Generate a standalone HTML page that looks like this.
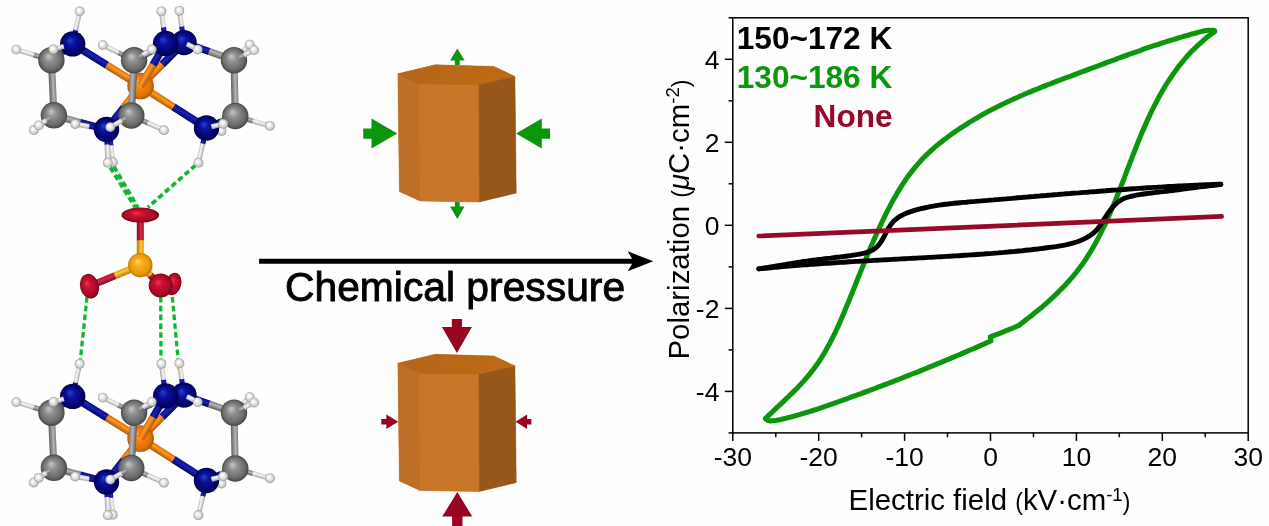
<!DOCTYPE html>
<html lang="en"><head><meta charset="utf-8"><title>Chemical pressure</title>
<style>
html,body{margin:0;padding:0;background:#fff;}
body{width:1269px;height:526px;overflow:hidden;font-family:"Liberation Sans",Arial,sans-serif;}
svg{display:block}
text{font-family:"Liberation Sans",Arial,sans-serif;}
</style></head><body>
<svg width="1269" height="526" viewBox="0 0 1269 526">
<defs>

<radialGradient id="gN" cx="0.5" cy="0.5" r="0.5" fx="0.38" fy="0.34"><stop offset="0" stop-color="#2e3ec6"/><stop offset="0.35" stop-color="#0a12a0"/><stop offset="0.8" stop-color="#040470"/><stop offset="1" stop-color="#020240"/></radialGradient>
<radialGradient id="gC" cx="0.5" cy="0.5" r="0.5" fx="0.38" fy="0.34"><stop offset="0" stop-color="#c8c8c8"/><stop offset="0.35" stop-color="#909090"/><stop offset="0.8" stop-color="#6a6a6a"/><stop offset="1" stop-color="#454545"/></radialGradient>
<radialGradient id="gH" cx="0.5" cy="0.5" r="0.5" fx="0.38" fy="0.34"><stop offset="0" stop-color="#ffffff"/><stop offset="0.35" stop-color="#f2f2f2"/><stop offset="0.8" stop-color="#cacaca"/><stop offset="1" stop-color="#8e8e8e"/></radialGradient>
<radialGradient id="gCo" cx="0.5" cy="0.5" r="0.5" fx="0.38" fy="0.34"><stop offset="0" stop-color="#ffae40"/><stop offset="0.35" stop-color="#f8860e"/><stop offset="0.8" stop-color="#e07204"/><stop offset="1" stop-color="#b05804"/></radialGradient>
<radialGradient id="gO" cx="0.5" cy="0.5" r="0.5" fx="0.38" fy="0.34"><stop offset="0" stop-color="#ee3252"/><stop offset="0.35" stop-color="#cc1030"/><stop offset="0.8" stop-color="#a80a26"/><stop offset="1" stop-color="#74061a"/></radialGradient>
<radialGradient id="gS" cx="0.5" cy="0.5" r="0.5" fx="0.38" fy="0.34"><stop offset="0" stop-color="#ffd860"/><stop offset="0.35" stop-color="#f8ac18"/><stop offset="0.8" stop-color="#e89808"/><stop offset="1" stop-color="#b87404"/></radialGradient>
<linearGradient id="bN" x1="0" y1="0" x2="0" y2="1"><stop offset="0" stop-color="#0a0a80"/><stop offset="0.4" stop-color="#1a22c0"/><stop offset="1" stop-color="#04045a"/></linearGradient>
<linearGradient id="bC" x1="0" y1="0" x2="0" y2="1"><stop offset="0" stop-color="#7e7e7e"/><stop offset="0.4" stop-color="#b4b4b4"/><stop offset="1" stop-color="#5e5e5e"/></linearGradient>
<linearGradient id="bH" x1="0" y1="0" x2="0" y2="1"><stop offset="0" stop-color="#c4c4c4"/><stop offset="0.4" stop-color="#f6f6f6"/><stop offset="1" stop-color="#a8a8a8"/></linearGradient>
<linearGradient id="bCo" x1="0" y1="0" x2="0" y2="1"><stop offset="0" stop-color="#d86e06"/><stop offset="0.4" stop-color="#ff9820"/><stop offset="1" stop-color="#b05804"/></linearGradient>
<linearGradient id="bO" x1="0" y1="0" x2="0" y2="1"><stop offset="0" stop-color="#a00c28"/><stop offset="0.4" stop-color="#d82848"/><stop offset="1" stop-color="#780820"/></linearGradient>
<linearGradient id="bS" x1="0" y1="0" x2="0" y2="1"><stop offset="0" stop-color="#e89808"/><stop offset="0.4" stop-color="#ffc838"/><stop offset="1" stop-color="#b87404"/></linearGradient>
<linearGradient id="ptop" x1="0" y1="0" x2="1" y2="0"><stop offset="0" stop-color="#b4661c"/><stop offset="1" stop-color="#c06a12"/></linearGradient>
</defs>
<rect width="1269" height="526" fill="#fffefe"/>
<g id="mol">
<line x1="110.3" y1="167.5" x2="135.4" y2="207.8" stroke="#10b832" stroke-width="3.7" stroke-dasharray="5.6 3.2"/>
<line x1="114.0" y1="166.6" x2="138.0" y2="207.8" stroke="#10b832" stroke-width="3.7" stroke-dasharray="5.6 3.2"/>
<line x1="195.6" y1="165.2" x2="147.8" y2="207.4" stroke="#10b832" stroke-width="3.7" stroke-dasharray="5.6 3.2"/>
<line x1="87.0" y1="297.0" x2="79.3" y2="370.0" stroke="#10b832" stroke-width="3.3" stroke-dasharray="5.6 3.2"/>
<line x1="160.7" y1="297.0" x2="161.0" y2="369.0" stroke="#10b832" stroke-width="3.3" stroke-dasharray="5.6 3.2"/>
<line x1="172.3" y1="297.0" x2="179.0" y2="369.0" stroke="#10b832" stroke-width="3.3" stroke-dasharray="5.6 3.2"/>
<g transform="translate(140.6 86.0) rotate(126.63) scale(1 -1)"><rect x="0" y="-3.8" width="27.1" height="7.6" fill="url(#bCo)"/><rect x="26.5" y="-3.8" width="26.5" height="7.6" fill="url(#bN)"/></g>
<g transform="translate(109.0 128.5) rotate(83.57) scale(1 1)"><rect x="0" y="-2.5" width="17.6" height="5" fill="url(#bN)"/><rect x="17.0" y="-2.5" width="17.0" height="5" fill="url(#bH)"/></g>
<circle cx="112.8" cy="162.2" r="4.9" fill="url(#gH)"/>
<g transform="translate(140.6 86.0) rotate(-45.00) scale(1 1)"><rect x="0" y="-3.8" width="31.3" height="7.6" fill="url(#bCo)"/><rect x="30.7" y="-3.8" width="30.7" height="7.6" fill="url(#bN)"/></g>
<g transform="translate(184.0 42.6) rotate(-98.23) scale(1 -1)"><rect x="0" y="-2.5" width="16.7" height="5" fill="url(#bN)"/><rect x="16.1" y="-2.5" width="16.1" height="5" fill="url(#bH)"/></g>
<circle cx="179.4" cy="10.8" r="4.9" fill="url(#gH)"/>
<g transform="translate(184.0 42.6) rotate(19.39) scale(1 1)"><rect x="0" y="-3.5" width="27.1" height="7" fill="url(#bN)"/><rect x="26.5" y="-3.5" width="26.5" height="7" fill="url(#bC)"/></g>
<circle cx="184.0" cy="42.6" r="12.7" fill="url(#gN)"/>
<g transform="translate(140.6 86.0) rotate(-148.20) scale(1 -1)"><rect x="0" y="-3.8" width="40.5" height="7.6" fill="url(#bCo)"/><rect x="39.9" y="-3.8" width="39.9" height="7.6" fill="url(#bN)"/></g>
<g transform="translate(140.6 86.0) rotate(128.09) scale(1 -1)"><rect x="0" y="-3.8" width="28.2" height="7.6" fill="url(#bCo)"/><rect x="27.6" y="-3.8" width="27.6" height="7.6" fill="url(#bN)"/></g>
<g transform="translate(140.6 86.0) rotate(32.51) scale(1 1)"><rect x="0" y="-3.8" width="39.7" height="7.6" fill="url(#bCo)"/><rect x="39.1" y="-3.8" width="39.1" height="7.6" fill="url(#bN)"/></g>
<circle cx="140.6" cy="86.0" r="13.3" fill="url(#gCo)"/>
<g transform="translate(140.6 86.0) rotate(-59.59) scale(1 1)"><rect x="0" y="-3.8" width="25.3" height="7.6" fill="url(#bCo)"/><rect x="24.7" y="-3.8" width="24.7" height="7.6" fill="url(#bN)"/></g>
<g transform="translate(165.6 43.4) rotate(151.93) scale(1 -1)"><rect x="0" y="-3.5" width="18.5" height="7" fill="url(#bN)"/><rect x="17.9" y="-3.5" width="17.9" height="7" fill="url(#bC)"/></g>
<g transform="translate(165.6 43.4) rotate(-97.45) scale(1 -1)"><rect x="0" y="-2.5" width="16.8" height="5" fill="url(#bN)"/><rect x="16.2" y="-2.5" width="16.2" height="5" fill="url(#bH)"/></g>
<circle cx="161.4" cy="11.3" r="4.9" fill="url(#gH)"/>
<circle cx="165.6" cy="43.4" r="12.7" fill="url(#gN)"/>
<g transform="translate(186.7 44.0) rotate(27.06) scale(1 1)"><rect x="0" y="-2.5" width="0.8" height="5" fill="url(#bN)"/><rect x="0.2" y="-2.5" width="12.1" height="5" fill="url(#bH)"/></g>
<circle cx="197.7" cy="49.6" r="4.9" fill="url(#gH)"/>
<g transform="translate(72.7 43.9) rotate(-77.88) scale(1 1)"><rect x="0" y="-2.5" width="14.6" height="5" fill="url(#bN)"/><rect x="14.0" y="-2.5" width="19.3" height="5" fill="url(#bH)"/></g>
<circle cx="79.7" cy="11.3" r="4.9" fill="url(#gH)"/>
<g transform="translate(51.4 60.2) rotate(-163.20) scale(1 -1)"><rect x="0" y="-2.5" width="18.9" height="5" fill="url(#bC)"/><rect x="18.3" y="-2.5" width="18.3" height="5" fill="url(#bH)"/></g>
<circle cx="16.3" cy="49.6" r="4.9" fill="url(#gH)"/>
<g transform="translate(51.4 60.2) rotate(87.40) scale(1 1)"><rect x="0" y="-3.5" width="55.2" height="7" fill="url(#bC)"/></g>
<g transform="translate(53.9 115.3) rotate(143.82) scale(1 -1)"><rect x="0" y="-2.5" width="13.1" height="5" fill="url(#bC)"/><rect x="12.5" y="-2.5" width="12.5" height="5" fill="url(#bH)"/></g>
<circle cx="33.8" cy="130.0" r="4.9" fill="url(#gH)"/>
<g transform="translate(53.9 115.3) rotate(15.11) scale(1 1)"><rect x="0" y="-3.5" width="27.8" height="7" fill="url(#bC)"/><rect x="27.2" y="-3.5" width="27.2" height="7" fill="url(#bN)"/></g>
<g transform="translate(72.7 43.9) rotate(142.57) scale(1 -1)"><rect x="0" y="-3.5" width="14.0" height="7" fill="url(#bN)"/><rect x="13.4" y="-3.5" width="13.4" height="7" fill="url(#bC)"/></g>
<circle cx="72.7" cy="43.9" r="12.7" fill="url(#gN)"/>
<circle cx="51.4" cy="60.2" r="13.2" fill="url(#gC)"/>
<g transform="translate(64.0 46.4) rotate(164.09) scale(1 -1)"><rect x="0" y="-2.5" width="0.8" height="5" fill="url(#bN)"/><rect x="0.2" y="-2.5" width="10.8" height="5" fill="url(#bH)"/></g>
<circle cx="53.4" cy="49.4" r="4.9" fill="url(#gH)"/>
<circle cx="53.9" cy="115.3" r="13.2" fill="url(#gC)"/>
<g transform="translate(49.7 118.1) rotate(146.49) scale(1 -1)"><rect x="0" y="-2.5" width="4.7" height="5" fill="url(#bC)"/><rect x="4.1" y="-2.5" width="9.1" height="5" fill="url(#bH)"/></g>
<circle cx="38.8" cy="125.3" r="4.9" fill="url(#gH)"/>
<g transform="translate(106.5 129.5) rotate(-170.03) scale(1 -1)"><rect x="0" y="-2.5" width="18.1" height="5" fill="url(#bN)"/><rect x="17.5" y="-2.5" width="14.3" height="5" fill="url(#bH)"/></g>
<circle cx="75.2" cy="124.0" r="4.9" fill="url(#gH)"/>
<g transform="translate(106.5 129.5) rotate(87.76) scale(1 1)"><rect x="0" y="-2.5" width="15.6" height="5" fill="url(#bN)"/><rect x="15.0" y="-2.5" width="18.3" height="5" fill="url(#bH)"/></g>
<circle cx="107.8" cy="162.7" r="4.9" fill="url(#gH)"/>
<circle cx="106.5" cy="129.5" r="12.7" fill="url(#gN)"/>
<g transform="translate(134.1 60.2) rotate(-154.25) scale(1 -1)"><rect x="0" y="-2.5" width="18.0" height="5" fill="url(#bC)"/><rect x="17.4" y="-2.5" width="17.4" height="5" fill="url(#bH)"/></g>
<circle cx="102.8" cy="45.1" r="4.9" fill="url(#gH)"/>
<g transform="translate(134.1 60.2) rotate(92.90) scale(1 -1)"><rect x="0" y="-3.5" width="55.4" height="7" fill="url(#bC)"/></g>
<g transform="translate(131.3 115.5) rotate(24.27) scale(1 1)"><rect x="0" y="-2.5" width="18.5" height="5" fill="url(#bC)"/><rect x="17.9" y="-2.5" width="17.9" height="5" fill="url(#bH)"/></g>
<circle cx="163.9" cy="130.2" r="4.9" fill="url(#gH)"/>
<circle cx="134.1" cy="60.2" r="13.2" fill="url(#gC)"/>
<g transform="translate(139.6 56.8) rotate(-31.39) scale(1 1)"><rect x="0" y="-2.5" width="4.5" height="5" fill="url(#bC)"/><rect x="3.9" y="-2.5" width="10.4" height="5" fill="url(#bH)"/></g>
<circle cx="151.8" cy="49.4" r="4.9" fill="url(#gH)"/>
<circle cx="131.3" cy="115.5" r="13.2" fill="url(#gC)"/>
<g transform="translate(126.0 118.4) rotate(151.08) scale(1 -1)"><rect x="0" y="-2.5" width="5.4" height="5" fill="url(#bC)"/><rect x="4.8" y="-2.5" width="13.2" height="5" fill="url(#bH)"/></g>
<circle cx="110.3" cy="127.1" r="4.9" fill="url(#gH)"/>
<g transform="translate(234.0 60.2) rotate(88.67) scale(1 1)"><rect x="0" y="-3.5" width="55.8" height="7" fill="url(#bC)"/></g>
<g transform="translate(235.3 116.0) rotate(15.81) scale(1 1)"><rect x="0" y="-2.5" width="18.6" height="5" fill="url(#bC)"/><rect x="18.0" y="-2.5" width="18.0" height="5" fill="url(#bH)"/></g>
<circle cx="269.9" cy="125.8" r="4.9" fill="url(#gH)"/>
<g transform="translate(235.3 116.0) rotate(157.38) scale(1 -1)"><rect x="0" y="-3.5" width="16.2" height="7" fill="url(#bC)"/><rect x="15.6" y="-3.5" width="15.6" height="7" fill="url(#bN)"/></g>
<g transform="translate(234.0 60.2) rotate(-44.64) scale(1 1)"><rect x="0" y="-2.5" width="11.7" height="5" fill="url(#bC)"/><rect x="11.1" y="-2.5" width="11.1" height="5" fill="url(#bH)"/></g>
<circle cx="249.8" cy="44.6" r="4.9" fill="url(#gH)"/>
<circle cx="234.0" cy="60.2" r="13.2" fill="url(#gC)"/>
<g transform="translate(239.4 57.5) rotate(-26.68) scale(1 1)"><rect x="0" y="-2.5" width="5.8" height="5" fill="url(#bC)"/><rect x="5.2" y="-2.5" width="11.2" height="5" fill="url(#bH)"/></g>
<circle cx="254.1" cy="50.1" r="4.9" fill="url(#gH)"/>
<circle cx="235.3" cy="116.0" r="13.2" fill="url(#gC)"/>
<g transform="translate(206.5 128.0) rotate(103.14) scale(1 -1)"><rect x="0" y="-2.5" width="16.6" height="5" fill="url(#bN)"/><rect x="16.0" y="-2.5" width="19.6" height="5" fill="url(#bH)"/></g>
<circle cx="198.4" cy="162.7" r="4.9" fill="url(#gH)"/>
<circle cx="221.5" cy="131.0" r="4.9" fill="url(#gH)"/>
<circle cx="206.5" cy="128.0" r="12.7" fill="url(#gN)"/>
<g transform="translate(211.3 126.8) rotate(-14.12) scale(1 1)"><rect x="0" y="-2.5" width="0.8" height="5" fill="url(#bN)"/><rect x="0.2" y="-2.5" width="12.0" height="5" fill="url(#bH)"/></g>
<circle cx="223.2" cy="123.8" r="4.9" fill="url(#gH)"/>
<g transform="translate(140.6 438.5) rotate(126.63) scale(1 -1)"><rect x="0" y="-3.8" width="27.1" height="7.6" fill="url(#bCo)"/><rect x="26.5" y="-3.8" width="26.5" height="7.6" fill="url(#bN)"/></g>
<g transform="translate(109.0 481.0) rotate(83.57) scale(1 1)"><rect x="0" y="-2.5" width="17.6" height="5" fill="url(#bN)"/><rect x="17.0" y="-2.5" width="17.0" height="5" fill="url(#bH)"/></g>
<circle cx="112.8" cy="514.7" r="4.9" fill="url(#gH)"/>
<g transform="translate(140.6 438.5) rotate(-45.00) scale(1 1)"><rect x="0" y="-3.8" width="31.3" height="7.6" fill="url(#bCo)"/><rect x="30.7" y="-3.8" width="30.7" height="7.6" fill="url(#bN)"/></g>
<g transform="translate(184.0 395.1) rotate(-98.23) scale(1 -1)"><rect x="0" y="-2.5" width="16.7" height="5" fill="url(#bN)"/><rect x="16.1" y="-2.5" width="16.1" height="5" fill="url(#bH)"/></g>
<circle cx="179.4" cy="363.3" r="4.9" fill="url(#gH)"/>
<g transform="translate(184.0 395.1) rotate(19.39) scale(1 1)"><rect x="0" y="-3.5" width="27.1" height="7" fill="url(#bN)"/><rect x="26.5" y="-3.5" width="26.5" height="7" fill="url(#bC)"/></g>
<circle cx="184.0" cy="395.1" r="12.7" fill="url(#gN)"/>
<g transform="translate(140.6 438.5) rotate(-148.20) scale(1 -1)"><rect x="0" y="-3.8" width="40.5" height="7.6" fill="url(#bCo)"/><rect x="39.9" y="-3.8" width="39.9" height="7.6" fill="url(#bN)"/></g>
<g transform="translate(140.6 438.5) rotate(128.09) scale(1 -1)"><rect x="0" y="-3.8" width="28.2" height="7.6" fill="url(#bCo)"/><rect x="27.6" y="-3.8" width="27.6" height="7.6" fill="url(#bN)"/></g>
<g transform="translate(140.6 438.5) rotate(32.51) scale(1 1)"><rect x="0" y="-3.8" width="39.7" height="7.6" fill="url(#bCo)"/><rect x="39.1" y="-3.8" width="39.1" height="7.6" fill="url(#bN)"/></g>
<circle cx="140.6" cy="438.5" r="13.3" fill="url(#gCo)"/>
<g transform="translate(140.6 438.5) rotate(-59.59) scale(1 1)"><rect x="0" y="-3.8" width="25.3" height="7.6" fill="url(#bCo)"/><rect x="24.7" y="-3.8" width="24.7" height="7.6" fill="url(#bN)"/></g>
<g transform="translate(165.6 395.9) rotate(151.93) scale(1 -1)"><rect x="0" y="-3.5" width="18.5" height="7" fill="url(#bN)"/><rect x="17.9" y="-3.5" width="17.9" height="7" fill="url(#bC)"/></g>
<g transform="translate(165.6 395.9) rotate(-97.45) scale(1 -1)"><rect x="0" y="-2.5" width="16.8" height="5" fill="url(#bN)"/><rect x="16.2" y="-2.5" width="16.2" height="5" fill="url(#bH)"/></g>
<circle cx="161.4" cy="363.8" r="4.9" fill="url(#gH)"/>
<circle cx="165.6" cy="395.9" r="12.7" fill="url(#gN)"/>
<g transform="translate(186.7 396.5) rotate(27.06) scale(1 1)"><rect x="0" y="-2.5" width="0.8" height="5" fill="url(#bN)"/><rect x="0.2" y="-2.5" width="12.1" height="5" fill="url(#bH)"/></g>
<circle cx="197.7" cy="402.1" r="4.9" fill="url(#gH)"/>
<g transform="translate(72.7 396.4) rotate(-77.88) scale(1 1)"><rect x="0" y="-2.5" width="14.6" height="5" fill="url(#bN)"/><rect x="14.0" y="-2.5" width="19.3" height="5" fill="url(#bH)"/></g>
<circle cx="79.7" cy="363.8" r="4.9" fill="url(#gH)"/>
<g transform="translate(51.4 412.7) rotate(-163.20) scale(1 -1)"><rect x="0" y="-2.5" width="18.9" height="5" fill="url(#bC)"/><rect x="18.3" y="-2.5" width="18.3" height="5" fill="url(#bH)"/></g>
<circle cx="16.3" cy="402.1" r="4.9" fill="url(#gH)"/>
<g transform="translate(51.4 412.7) rotate(87.40) scale(1 1)"><rect x="0" y="-3.5" width="55.2" height="7" fill="url(#bC)"/></g>
<g transform="translate(53.9 467.8) rotate(143.82) scale(1 -1)"><rect x="0" y="-2.5" width="13.1" height="5" fill="url(#bC)"/><rect x="12.5" y="-2.5" width="12.5" height="5" fill="url(#bH)"/></g>
<circle cx="33.8" cy="482.5" r="4.9" fill="url(#gH)"/>
<g transform="translate(53.9 467.8) rotate(15.11) scale(1 1)"><rect x="0" y="-3.5" width="27.8" height="7" fill="url(#bC)"/><rect x="27.2" y="-3.5" width="27.2" height="7" fill="url(#bN)"/></g>
<g transform="translate(72.7 396.4) rotate(142.57) scale(1 -1)"><rect x="0" y="-3.5" width="14.0" height="7" fill="url(#bN)"/><rect x="13.4" y="-3.5" width="13.4" height="7" fill="url(#bC)"/></g>
<circle cx="72.7" cy="396.4" r="12.7" fill="url(#gN)"/>
<circle cx="51.4" cy="412.7" r="13.2" fill="url(#gC)"/>
<g transform="translate(64.0 398.9) rotate(164.09) scale(1 -1)"><rect x="0" y="-2.5" width="0.8" height="5" fill="url(#bN)"/><rect x="0.2" y="-2.5" width="10.8" height="5" fill="url(#bH)"/></g>
<circle cx="53.4" cy="401.9" r="4.9" fill="url(#gH)"/>
<circle cx="53.9" cy="467.8" r="13.2" fill="url(#gC)"/>
<g transform="translate(49.7 470.6) rotate(146.49) scale(1 -1)"><rect x="0" y="-2.5" width="4.7" height="5" fill="url(#bC)"/><rect x="4.1" y="-2.5" width="9.1" height="5" fill="url(#bH)"/></g>
<circle cx="38.8" cy="477.8" r="4.9" fill="url(#gH)"/>
<g transform="translate(106.5 482.0) rotate(-170.03) scale(1 -1)"><rect x="0" y="-2.5" width="18.1" height="5" fill="url(#bN)"/><rect x="17.5" y="-2.5" width="14.3" height="5" fill="url(#bH)"/></g>
<circle cx="75.2" cy="476.5" r="4.9" fill="url(#gH)"/>
<g transform="translate(106.5 482.0) rotate(87.76) scale(1 1)"><rect x="0" y="-2.5" width="15.6" height="5" fill="url(#bN)"/><rect x="15.0" y="-2.5" width="18.3" height="5" fill="url(#bH)"/></g>
<circle cx="107.8" cy="515.2" r="4.9" fill="url(#gH)"/>
<circle cx="106.5" cy="482.0" r="12.7" fill="url(#gN)"/>
<g transform="translate(134.1 412.7) rotate(-154.25) scale(1 -1)"><rect x="0" y="-2.5" width="18.0" height="5" fill="url(#bC)"/><rect x="17.4" y="-2.5" width="17.4" height="5" fill="url(#bH)"/></g>
<circle cx="102.8" cy="397.6" r="4.9" fill="url(#gH)"/>
<g transform="translate(134.1 412.7) rotate(92.90) scale(1 -1)"><rect x="0" y="-3.5" width="55.4" height="7" fill="url(#bC)"/></g>
<g transform="translate(131.3 468.0) rotate(24.27) scale(1 1)"><rect x="0" y="-2.5" width="18.5" height="5" fill="url(#bC)"/><rect x="17.9" y="-2.5" width="17.9" height="5" fill="url(#bH)"/></g>
<circle cx="163.9" cy="482.7" r="4.9" fill="url(#gH)"/>
<circle cx="134.1" cy="412.7" r="13.2" fill="url(#gC)"/>
<g transform="translate(139.6 409.3) rotate(-31.39) scale(1 1)"><rect x="0" y="-2.5" width="4.5" height="5" fill="url(#bC)"/><rect x="3.9" y="-2.5" width="10.4" height="5" fill="url(#bH)"/></g>
<circle cx="151.8" cy="401.9" r="4.9" fill="url(#gH)"/>
<circle cx="131.3" cy="468.0" r="13.2" fill="url(#gC)"/>
<g transform="translate(126.0 470.9) rotate(151.08) scale(1 -1)"><rect x="0" y="-2.5" width="5.4" height="5" fill="url(#bC)"/><rect x="4.8" y="-2.5" width="13.2" height="5" fill="url(#bH)"/></g>
<circle cx="110.3" cy="479.6" r="4.9" fill="url(#gH)"/>
<g transform="translate(234.0 412.7) rotate(88.67) scale(1 1)"><rect x="0" y="-3.5" width="55.8" height="7" fill="url(#bC)"/></g>
<g transform="translate(235.3 468.5) rotate(15.81) scale(1 1)"><rect x="0" y="-2.5" width="18.6" height="5" fill="url(#bC)"/><rect x="18.0" y="-2.5" width="18.0" height="5" fill="url(#bH)"/></g>
<circle cx="269.9" cy="478.3" r="4.9" fill="url(#gH)"/>
<g transform="translate(235.3 468.5) rotate(157.38) scale(1 -1)"><rect x="0" y="-3.5" width="16.2" height="7" fill="url(#bC)"/><rect x="15.6" y="-3.5" width="15.6" height="7" fill="url(#bN)"/></g>
<g transform="translate(234.0 412.7) rotate(-44.64) scale(1 1)"><rect x="0" y="-2.5" width="11.7" height="5" fill="url(#bC)"/><rect x="11.1" y="-2.5" width="11.1" height="5" fill="url(#bH)"/></g>
<circle cx="249.8" cy="397.1" r="4.9" fill="url(#gH)"/>
<circle cx="234.0" cy="412.7" r="13.2" fill="url(#gC)"/>
<g transform="translate(239.4 410.0) rotate(-26.68) scale(1 1)"><rect x="0" y="-2.5" width="5.8" height="5" fill="url(#bC)"/><rect x="5.2" y="-2.5" width="11.2" height="5" fill="url(#bH)"/></g>
<circle cx="254.1" cy="402.6" r="4.9" fill="url(#gH)"/>
<circle cx="235.3" cy="468.5" r="13.2" fill="url(#gC)"/>
<g transform="translate(206.5 480.5) rotate(103.14) scale(1 -1)"><rect x="0" y="-2.5" width="16.6" height="5" fill="url(#bN)"/><rect x="16.0" y="-2.5" width="19.6" height="5" fill="url(#bH)"/></g>
<circle cx="198.4" cy="515.2" r="4.9" fill="url(#gH)"/>
<circle cx="221.5" cy="483.5" r="4.9" fill="url(#gH)"/>
<circle cx="206.5" cy="480.5" r="12.7" fill="url(#gN)"/>
<g transform="translate(211.3 479.3) rotate(-14.12) scale(1 1)"><rect x="0" y="-2.5" width="0.8" height="5" fill="url(#bN)"/><rect x="0.2" y="-2.5" width="12.0" height="5" fill="url(#bH)"/></g>
<circle cx="223.2" cy="476.3" r="4.9" fill="url(#gH)"/>
<ellipse cx="173.2" cy="284.0" rx="8" ry="11.5" fill="url(#gO)" transform="rotate(15 173.2 284.0)"/>
<g transform="translate(140.3 265.2) rotate(-90.00) scale(1 -1)"><rect x="0" y="-3.5" width="25.6" height="7" fill="url(#bS)"/><rect x="25.0" y="-3.5" width="25.0" height="7" fill="url(#bO)"/></g>
<g transform="translate(140.3 265.2) rotate(157.54) scale(1 -1)"><rect x="0" y="-3.5" width="28.1" height="7" fill="url(#bS)"/><rect x="27.5" y="-3.5" width="27.5" height="7" fill="url(#bO)"/></g>
<g transform="translate(140.3 265.2) rotate(45.00) scale(1 1)"><rect x="0" y="-3.5" width="15.0" height="7" fill="url(#bS)"/><rect x="14.4" y="-3.5" width="14.4" height="7" fill="url(#bO)"/></g>
<circle cx="140.3" cy="265.2" r="12.2" fill="url(#gS)"/>
<ellipse cx="140.3" cy="215.1" rx="18.8" ry="7.5" fill="url(#gO)"/>
<ellipse cx="89.5" cy="286.2" rx="9.4" ry="12.5" fill="url(#gO)" transform="rotate(-15 89.5 286.2)"/>
<circle cx="160.7" cy="285.6" r="12" fill="url(#gO)"/>
</g>
<g id="prisms">
<polygon points="397.9,73.7 435.3,64.8 493.8,66.5 514.9,76.4 516.2,193.1 479.0,202.0 420.1,201.0 399.4,191.5" fill="#c07228"/>
<polygon points="478.5,84.6 514.9,76.4 516.2,193.1 479.0,202.0" fill="#97571a" stroke="#97571a" stroke-width="0.5" stroke-linejoin="round"/>
<polygon points="397.9,73.7 419.4,84.0 420.1,201.0 399.4,191.5" fill="#be6e27" stroke="#be6e27" stroke-width="0.5" stroke-linejoin="round"/>
<polygon points="419.4,84.0 478.5,84.6 479.0,202.0 420.1,201.0" fill="#c8772a" stroke="#c8772a" stroke-width="0.5" stroke-linejoin="round"/>
<polygon points="397.9,73.7 435.3,64.8 493.8,66.5 514.9,76.4 478.5,84.6 419.4,84.0" fill="url(#ptop)" stroke="#b96815" stroke-width="0.5" stroke-linejoin="round"/>
<polygon points="397.9,363.2 435.3,354.3 493.8,356.0 514.9,365.9 516.2,482.6 479.0,491.5 420.1,490.5 399.4,481.0" fill="#c07228"/>
<polygon points="478.5,374.1 514.9,365.9 516.2,482.6 479.0,491.5" fill="#97571a" stroke="#97571a" stroke-width="0.5" stroke-linejoin="round"/>
<polygon points="397.9,363.2 419.4,373.5 420.1,490.5 399.4,481.0" fill="#be6e27" stroke="#be6e27" stroke-width="0.5" stroke-linejoin="round"/>
<polygon points="419.4,373.5 478.5,374.1 479.0,491.5 420.1,490.5" fill="#c8772a" stroke="#c8772a" stroke-width="0.5" stroke-linejoin="round"/>
<polygon points="397.9,363.2 435.3,354.3 493.8,356.0 514.9,365.9 478.5,374.1 419.4,373.5" fill="url(#ptop)" stroke="#b96815" stroke-width="0.5" stroke-linejoin="round"/>
<polygon points="457.3,48.4 464.6,60.5 459.7,60.5 459.7,65.0 454.9,65.0 454.9,60.5 450.1,60.5" fill="#0c960c"/>
<polygon points="457.3,219.0 450.1,206.5 454.9,206.5 454.9,201.9 459.7,201.9 459.7,206.5 464.6,206.5" fill="#0c960c"/>
<polygon points="397.3,133.6 371.5,148.6 371.5,138.8 363.2,138.8 363.2,128.4 371.5,128.4 371.5,118.6" fill="#0c960c"/>
<polygon points="516.0,133.6 541.8,118.6 541.8,128.4 550.1,128.4 550.1,138.8 541.8,138.8 541.8,148.6" fill="#0c960c"/>
<polygon points="456.9,353.0 441.9,327.1 451.8,327.1 451.8,318.9 462.0,318.9 462.0,327.1 471.9,327.1" fill="#970522"/>
<polygon points="457.3,491.9 472.3,516.6 462.5,516.6 462.5,528.6 452.1,528.6 452.1,516.6 442.3,516.6" fill="#970522"/>
<polygon points="398.2,421.7 386.3,428.9 386.3,424.5 381.3,424.5 381.3,418.9 386.3,418.9 386.3,414.5" fill="#970522"/>
<polygon points="515.6,421.7 527.1,414.5 527.1,418.9 531.4,418.9 531.4,424.5 527.1,424.5 527.1,428.9" fill="#970522"/>
</g>
<g id="center">
<line x1="259.1" y1="261.2" x2="634" y2="261.2" stroke="#000" stroke-width="5"/>
<polygon points="653.3,261.2 627.7,251.3 633.6,261.2 627.7,271.2" fill="#000"/>
<text x="285" y="300.6" font-size="40.8" fill="#000" stroke="#000" stroke-width="0.9">Chemical pressure</text>
</g>
<g id="chart">
<rect x="732.8" y="17.8" width="515.4" height="415.1" fill="none" stroke="#000" stroke-width="1.5"/>
<line x1="732.8" y1="432.9" x2="732.8" y2="440.9" stroke="#000" stroke-width="1.5"/>
<text x="732.8" y="466.2" font-size="26.5" text-anchor="middle">-30</text>
<line x1="775.8" y1="432.9" x2="775.8" y2="437.29999999999995" stroke="#000" stroke-width="1.5"/>
<line x1="818.7" y1="432.9" x2="818.7" y2="440.9" stroke="#000" stroke-width="1.5"/>
<text x="818.7" y="466.2" font-size="26.5" text-anchor="middle">-20</text>
<line x1="861.6" y1="432.9" x2="861.6" y2="437.29999999999995" stroke="#000" stroke-width="1.5"/>
<line x1="904.6" y1="432.9" x2="904.6" y2="440.9" stroke="#000" stroke-width="1.5"/>
<text x="904.6" y="466.2" font-size="26.5" text-anchor="middle">-10</text>
<line x1="947.5" y1="432.9" x2="947.5" y2="437.29999999999995" stroke="#000" stroke-width="1.5"/>
<line x1="990.5" y1="432.9" x2="990.5" y2="440.9" stroke="#000" stroke-width="1.5"/>
<text x="990.5" y="466.2" font-size="26.5" text-anchor="middle">0</text>
<line x1="1033.5" y1="432.9" x2="1033.5" y2="437.29999999999995" stroke="#000" stroke-width="1.5"/>
<line x1="1076.4" y1="432.9" x2="1076.4" y2="440.9" stroke="#000" stroke-width="1.5"/>
<text x="1076.4" y="466.2" font-size="26.5" text-anchor="middle">10</text>
<line x1="1119.3" y1="432.9" x2="1119.3" y2="437.29999999999995" stroke="#000" stroke-width="1.5"/>
<line x1="1162.3" y1="432.9" x2="1162.3" y2="440.9" stroke="#000" stroke-width="1.5"/>
<text x="1162.3" y="466.2" font-size="26.5" text-anchor="middle">20</text>
<line x1="1205.2" y1="432.9" x2="1205.2" y2="437.29999999999995" stroke="#000" stroke-width="1.5"/>
<line x1="1248.2" y1="432.9" x2="1248.2" y2="440.9" stroke="#000" stroke-width="1.5"/>
<text x="1248.2" y="466.2" font-size="26.5" text-anchor="middle">30</text>
<line x1="728.5999999999999" y1="432.9" x2="732.8" y2="432.9" stroke="#000" stroke-width="1.5"/>
<line x1="724.8" y1="391.4" x2="732.8" y2="391.4" stroke="#000" stroke-width="1.5"/>
<text x="719.4" y="400.6" font-size="26.5" text-anchor="end">-4</text>
<line x1="728.5999999999999" y1="349.9" x2="732.8" y2="349.9" stroke="#000" stroke-width="1.5"/>
<line x1="724.8" y1="308.4" x2="732.8" y2="308.4" stroke="#000" stroke-width="1.5"/>
<text x="719.4" y="317.6" font-size="26.5" text-anchor="end">-2</text>
<line x1="728.5999999999999" y1="266.9" x2="732.8" y2="266.9" stroke="#000" stroke-width="1.5"/>
<line x1="724.8" y1="225.3" x2="732.8" y2="225.3" stroke="#000" stroke-width="1.5"/>
<text x="719.4" y="234.5" font-size="26.5" text-anchor="end">0</text>
<line x1="728.5999999999999" y1="183.8" x2="732.8" y2="183.8" stroke="#000" stroke-width="1.5"/>
<line x1="724.8" y1="142.3" x2="732.8" y2="142.3" stroke="#000" stroke-width="1.5"/>
<text x="719.4" y="151.5" font-size="26.5" text-anchor="end">2</text>
<line x1="728.5999999999999" y1="100.8" x2="732.8" y2="100.8" stroke="#000" stroke-width="1.5"/>
<line x1="724.8" y1="59.3" x2="732.8" y2="59.3" stroke="#000" stroke-width="1.5"/>
<text x="719.4" y="68.5" font-size="26.5" text-anchor="end">4</text>
<line x1="728.5999999999999" y1="17.8" x2="732.8" y2="17.8" stroke="#000" stroke-width="1.5"/>
<path d="M765.6,418.8L767.9,420.5L770.8,420.9L773.7,420.8L776.7,420.3L779.8,419.7L782.8,419.0L785.8,418.3L788.7,417.5L791.7,416.8L794.7,416.0L797.6,415.1L800.5,414.3L803.5,413.4L806.4,412.5L809.3,411.6L812.2,410.7L815.1,409.8L818.0,408.8L820.9,407.8L823.7,406.9L826.6,405.9L829.5,404.9L832.4,403.9L835.2,402.9L838.1,401.8L841.0,400.8L843.8,399.8L846.7,398.8L849.6,397.7L852.4,396.7L855.3,395.7L858.1,394.6L861.0,393.6L863.9,392.5L866.7,391.5L869.6,390.4L872.4,389.3L875.3,388.3L878.1,387.2L881.0,386.1L883.8,385.0L886.7,384.0L889.5,382.9L892.4,381.8L895.2,380.7L898.1,379.6L900.9,378.5L903.7,377.4L906.6,376.2L909.4,375.1L912.2,374.0L915.1,372.9L917.9,371.8L920.7,370.6L923.6,369.5L926.4,368.3L929.2,367.2L932.0,366.1L934.9,364.9L937.7,363.7L940.5,362.6L943.3,361.4L946.1,360.2L948.9,359.1L951.8,357.9L954.6,356.7L957.4,355.5L960.2,354.3L963.0,353.1L965.8,351.9L968.6,350.7L971.4,349.5L974.2,348.3L977.0,347.1L979.7,345.9L982.5,344.7L985.3,343.4L988.1,342.2L990.9,341.0L990.3,337.0L992.9,336.0L995.6,334.9L998.3,333.9L1000.9,332.8L1003.5,331.8L1006.2,330.7L1008.8,329.7L1011.5,328.6L1014.1,327.5L1016.7,326.4L1019.3,325.2L1019.2,325.1L1021.6,323.3L1023.9,321.5L1026.3,319.6L1028.7,317.8L1031.1,315.9L1033.4,314.0L1035.8,312.1L1038.1,310.2L1040.5,308.3L1042.8,306.3L1045.1,304.3L1047.4,302.3L1049.6,300.3L1051.9,298.2L1054.1,296.2L1056.3,294.1L1058.5,291.9L1060.6,289.8L1062.8,287.6L1064.9,285.5L1066.9,283.2L1068.9,281.0L1070.9,278.7L1072.9,276.5L1074.8,274.1L1076.7,271.8L1078.5,269.4L1080.3,267.0L1082.1,264.6L1083.8,262.2L1085.5,259.7L1087.1,257.2L1088.7,254.7L1090.3,252.2L1091.8,249.6L1093.3,247.1L1094.8,244.5L1096.2,241.9L1097.6,239.2L1099.0,236.6L1100.4,233.9L1101.7,231.2L1103.0,228.5L1104.3,225.8L1105.6,223.1L1106.9,220.4L1108.1,217.6L1109.3,214.9L1110.5,212.1L1111.7,209.3L1112.9,206.6L1114.0,203.8L1115.2,201.0L1116.3,198.1L1117.4,195.3L1118.6,192.5L1119.7,189.7L1120.8,186.9L1121.9,184.0L1123.0,181.2L1124.1,178.4L1125.1,175.5L1126.2,172.7L1127.3,169.8L1128.4,167.0L1129.5,164.1L1130.6,161.3L1131.7,158.5L1132.8,155.6L1133.9,152.8L1135.0,150.0L1136.1,147.2L1137.2,144.3L1138.3,141.5L1139.5,138.7L1140.6,135.9L1141.8,133.1L1143.0,130.3L1144.2,127.6L1145.4,124.8L1146.6,122.1L1147.8,119.3L1149.1,116.6L1150.4,113.9L1151.7,111.2L1153.0,108.5L1154.3,105.8L1155.7,103.1L1157.1,100.5L1158.5,97.9L1159.9,95.3L1161.4,92.7L1162.9,90.1L1164.4,87.5L1165.9,85.0L1167.5,82.5L1169.1,80.0L1170.8,77.5L1172.5,75.0L1174.2,72.6L1175.9,70.2L1177.7,67.8L1179.5,65.4L1181.4,63.1L1183.3,60.8L1185.2,58.5L1187.2,56.3L1189.2,54.0L1191.3,51.8L1193.4,49.6L1195.6,47.5L1197.8,45.4L1200.1,43.3L1202.4,41.3L1204.7,39.2L1207.1,37.3L1209.6,35.3L1212.1,33.4L1214.6,31.5" fill="none" stroke="#0c960c" stroke-width="5.1" stroke-linecap="round" stroke-linejoin="round"/>
<path d="M1214.2,31.6L1214.6,30.8L1212.5,30.2L1208.0,30.3L1203.0,31.1L1200.0,31.9L1197.0,32.7L1194.0,33.5L1191.0,34.3L1188.0,35.2L1185.0,36.0L1182.0,36.9L1179.0,37.8L1176.1,38.7L1173.1,39.6L1170.1,40.5L1167.2,41.4L1164.2,42.4L1161.3,43.3L1158.3,44.3L1155.4,45.2L1152.4,46.2L1149.5,47.2L1146.5,48.2L1143.6,49.2L1140.7,50.3L1137.8,51.3L1134.8,52.3L1131.9,53.4L1129.0,54.4L1126.1,55.5L1123.1,56.5L1120.2,57.6L1117.3,58.7L1114.4,59.8L1111.5,60.8L1108.6,61.9L1105.7,63.0L1102.8,64.1L1099.9,65.2L1096.9,66.3L1094.0,67.4L1091.1,68.4L1088.2,69.5L1085.3,70.6L1082.4,71.7L1079.5,72.8L1076.6,73.9L1073.7,75.0L1070.8,76.1L1067.8,77.1L1064.9,78.2L1062.0,79.3L1059.1,80.4L1056.2,81.5L1053.3,82.6L1050.4,83.8L1047.5,84.9L1044.6,86.0L1041.7,87.1L1038.9,88.3L1036.0,89.5L1033.1,90.6L1030.2,91.8L1027.4,93.0L1024.5,94.2L1021.7,95.5L1018.8,96.7L1016.0,98.0L1013.2,99.2L1010.4,100.5L1007.5,101.8L1004.7,103.2L1001.9,104.5L999.2,105.9L996.4,107.3L993.6,108.7L990.9,110.1L988.1,111.6L985.4,113.1L982.7,114.6L980.0,116.1L977.3,117.7L974.6,119.2L972.0,120.8L969.3,122.4L966.7,124.1L964.1,125.8L961.5,127.4L958.9,129.2L956.3,130.9L953.7,132.7L951.2,134.5L948.7,136.3L946.2,138.2L943.7,140.0L941.3,142.0L938.8,143.9L936.4,145.9L934.1,147.9L931.7,150.0L929.5,152.0L927.2,154.2L925.0,156.3L922.8,158.5L920.7,160.8L918.7,163.1L916.7,165.4L914.7,167.8L912.8,170.2L910.9,172.6L909.0,175.1L907.2,177.6L905.4,180.1L903.7,182.7L902.0,185.3L900.4,187.9L898.7,190.6L897.1,193.2L895.6,195.9L894.0,198.6L892.5,201.3L891.0,204.1L889.6,206.8L888.1,209.6L886.7,212.4L885.3,215.2L884.0,218.0L882.6,220.8L881.3,223.6L880.0,226.4L878.7,229.3L877.4,232.1L876.1,234.9L874.8,237.8L873.6,240.6L872.4,243.5L871.1,246.3L869.9,249.2L868.7,252.0L867.5,254.9L866.3,257.7L865.1,260.6L864.0,263.5L862.8,266.3L861.6,269.2L860.5,272.1L859.3,274.9L858.1,277.8L857.0,280.7L855.8,283.6L854.7,286.5L853.5,289.3L852.4,292.2L851.2,295.1L850.0,298.0L848.9,300.9L847.7,303.8L846.5,306.6L845.3,309.5L844.1,312.4L842.9,315.3L841.7,318.1L840.4,321.0L839.2,323.8L837.9,326.7L836.6,329.5L835.3,332.3L833.9,335.1L832.5,337.9L831.1,340.7L829.7,343.4L828.2,346.1L826.7,348.8L825.2,351.5L823.6,354.2L822.0,356.8L820.4,359.4L818.7,362.0L816.9,364.5L815.1,367.0L813.3,369.5L811.4,371.9L809.4,374.3L807.5,376.7L805.4,379.1L803.4,381.4L801.3,383.7L799.1,386.0L797.0,388.2L794.8,390.4L792.6,392.6L790.3,394.8L788.1,397.0L785.8,399.2L783.6,401.3L781.3,403.5L779.0,405.6L776.8,407.7L774.5,409.9L772.3,412.0L770.0,414.1L767.8,416.2L765.6,418.4" fill="none" stroke="#0c960c" stroke-width="5.1" stroke-linecap="round" stroke-linejoin="round"/>
<path d="M758.8,268.8L761.8,268.4L764.8,267.9L767.8,267.5L770.8,267.0L773.8,266.5L776.8,266.0L779.8,265.5L782.8,265.0L785.8,264.5L788.8,263.9L791.9,263.4L794.9,262.9L797.9,262.4L800.9,262.0L803.9,261.5L806.9,261.1L809.8,260.7L812.8,260.3L815.8,259.9L818.8,259.5L821.8,259.2L824.8,258.8L827.8,258.4L830.8,258.1L833.8,257.7L836.8,257.3L839.8,257.0L842.9,256.6L845.9,256.2L848.9,255.8L852.0,255.3L855.0,254.9L858.1,254.4L861.2,253.8L864.2,253.2L867.1,252.4L869.9,251.3L872.5,250.1L875.0,248.5L877.2,246.6L879.2,244.4L881.0,241.9L882.6,239.3L884.1,236.5L885.6,233.7L887.0,230.9L888.5,228.1L890.2,225.5L892.0,223.1L894.0,220.9L896.2,219.0L898.6,217.3L901.1,215.7L903.8,214.4L906.5,213.1L909.3,212.1L912.2,211.1L915.2,210.2L918.2,209.4L921.1,208.7L924.1,208.0L927.1,207.3L930.1,206.7L933.1,206.2L936.1,205.7L939.1,205.2L942.1,204.7L945.1,204.3L948.1,204.0L951.2,203.6L954.2,203.3L957.2,203.0L960.2,202.7L963.2,202.4L966.3,202.2L969.3,201.9L972.3,201.6L975.3,201.4L978.4,201.1L981.4,200.9L984.4,200.6L987.4,200.4L990.5,200.1L993.5,199.9L996.5,199.6L999.5,199.4L1002.6,199.1L1005.6,198.9L1008.6,198.6L1011.7,198.4L1014.7,198.1L1017.7,197.8L1020.7,197.6L1023.8,197.3L1026.8,197.1L1029.8,196.8L1032.8,196.6L1035.9,196.3L1038.9,196.1L1041.9,195.8L1045.0,195.6L1048.0,195.3L1051.0,195.1L1054.0,194.8L1057.1,194.6L1060.1,194.3L1063.1,194.1L1066.2,193.8L1069.2,193.6L1072.2,193.3L1075.2,193.1L1078.3,192.9L1081.3,192.6L1084.3,192.4L1087.4,192.2L1090.4,191.9L1093.4,191.7L1096.5,191.5L1099.5,191.2L1102.5,191.0L1105.5,190.8L1108.6,190.5L1111.6,190.3L1114.6,190.1L1117.7,189.9L1120.7,189.7L1123.7,189.5L1126.8,189.2L1129.8,189.0L1132.8,188.8L1135.9,188.6L1138.9,188.4L1141.9,188.2L1145.0,188.0L1148.0,187.8L1151.0,187.6L1154.0,187.4L1157.1,187.3L1160.1,187.1L1163.1,186.9L1166.2,186.7L1169.2,186.5L1172.2,186.4L1175.3,186.2L1178.3,186.0L1181.3,185.9L1184.4,185.7L1187.4,185.6L1190.4,185.4L1193.5,185.3L1196.5,185.1L1199.6,185.0L1202.6,184.9L1205.6,184.7L1208.7,184.6L1211.7,184.5L1214.7,184.4L1217.8,184.2L1220.8,184.1" fill="none" stroke="#000" stroke-width="4.9" stroke-linecap="round" stroke-linejoin="round"/>
<path d="M1220.8,184.5L1217.8,184.8L1214.7,185.2L1211.7,185.5L1208.7,185.8L1205.7,186.2L1202.7,186.6L1199.6,186.9L1196.6,187.3L1193.6,187.7L1190.6,188.1L1187.6,188.5L1184.6,188.9L1181.6,189.3L1178.6,189.7L1175.6,190.1L1172.6,190.5L1169.6,190.8L1166.6,191.2L1163.5,191.6L1160.5,191.9L1157.5,192.3L1154.5,192.6L1151.5,193.0L1148.4,193.4L1145.4,193.8L1142.4,194.2L1139.3,194.7L1136.3,195.2L1133.3,195.8L1130.3,196.5L1127.3,197.3L1124.4,198.3L1121.8,199.6L1119.3,201.1L1116.9,202.9L1114.8,204.9L1112.7,207.1L1110.8,209.4L1108.9,211.9L1107.2,214.4L1105.5,217.0L1103.8,219.6L1102.2,222.3L1100.6,224.9L1098.8,227.3L1096.9,229.7L1094.8,231.8L1092.5,233.8L1090.0,235.5L1087.5,237.1L1084.8,238.6L1082.2,239.8L1079.4,241.0L1076.6,242.0L1073.7,242.9L1070.8,243.7L1067.9,244.4L1064.9,245.1L1061.9,245.6L1058.9,246.1L1055.8,246.6L1052.8,247.0L1049.7,247.4L1046.7,247.8L1043.7,248.2L1040.6,248.6L1037.6,249.0L1034.5,249.3L1031.5,249.7L1028.5,250.0L1025.4,250.3L1022.4,250.7L1019.4,251.0L1016.3,251.3L1013.3,251.6L1010.3,251.8L1007.2,252.1L1004.2,252.4L1001.2,252.6L998.2,252.9L995.1,253.1L992.1,253.4L989.1,253.6L986.1,253.8L983.1,254.1L980.0,254.3L977.0,254.5L974.0,254.7L971.0,254.9L967.9,255.1L964.9,255.3L961.9,255.5L958.9,255.7L955.9,255.9L952.8,256.0L949.8,256.2L946.8,256.4L943.8,256.6L940.7,256.7L937.7,256.9L934.7,257.1L931.6,257.3L928.6,257.4L925.6,257.6L922.6,257.8L919.5,257.9L916.5,258.1L913.5,258.2L910.4,258.4L907.4,258.6L904.4,258.7L901.3,258.9L898.3,259.1L895.2,259.2L892.2,259.4L889.2,259.6L886.1,259.7L883.1,259.9L880.1,260.1L877.0,260.2L874.0,260.4L871.0,260.6L867.9,260.7L864.9,260.9L861.8,261.1L858.8,261.3L855.8,261.4L852.7,261.6L849.7,261.8L846.7,262.0L843.6,262.2L840.6,262.4L837.5,262.6L834.5,262.8L831.5,263.0L828.4,263.2L825.4,263.4L822.4,263.6L819.3,263.8L816.3,264.0L813.3,264.2L810.2,264.4L807.2,264.7L804.2,264.9L801.1,265.1L798.1,265.4L795.1,265.6L792.1,265.8L789.0,266.1L786.0,266.4L783.0,266.6L780.0,266.9L776.9,267.2L773.9,267.4L770.9,267.7L767.9,268.0L764.9,268.3L761.8,268.6L758.8,268.9" fill="none" stroke="#000" stroke-width="4.9" stroke-linecap="round" stroke-linejoin="round"/>
<path d="M758.8,236L1221.6,216.45" fill="none" stroke="#960a28" stroke-width="4.7" stroke-linecap="round"/>
<text x="736.8" y="48.7" font-size="31.6" font-weight="bold" fill="#000">150~172 K</text>
<text x="736.8" y="87.5" font-size="31.6" font-weight="bold" fill="#0c960c">130~186 K</text>
<text x="892.6" y="126.7" font-size="31.6" font-weight="bold" fill="#960a28" text-anchor="end">None</text>
<text x="848.6" y="510.3" font-size="29.4">Electric field <tspan font-size="23">(</tspan>kV·cm<tspan font-size="18.6" dy="-9.5">-1</tspan><tspan font-size="23" dy="9.5">)</tspan></text>
<text transform="translate(688.6 359.5) rotate(-90)" font-size="29.4">Polarization <tspan font-size="23">(</tspan><tspan font-style="italic">μ</tspan>C·cm<tspan font-size="18.6" dy="-9.5">-2</tspan><tspan font-size="23" dy="9.5">)</tspan></text>
</g>
</svg></body></html>
